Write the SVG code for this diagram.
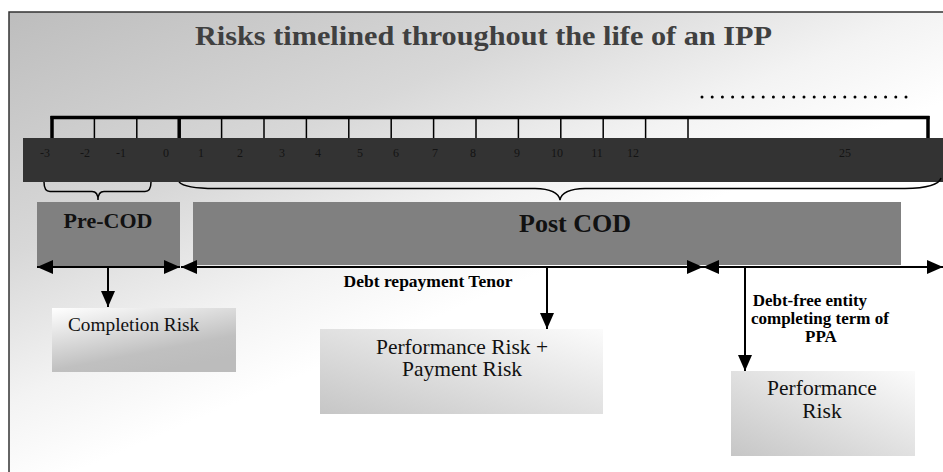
<svg xmlns="http://www.w3.org/2000/svg" width="943" height="472" viewBox="0 0 943 472" font-family="'Liberation Serif', 'Times New Roman', 'DejaVu Serif', serif">
  <defs>
    <linearGradient id="bg" gradientUnits="userSpaceOnUse" x1="9" y1="12" x2="185" y2="425">
      <stop offset="0" stop-color="#bdbdbd"/>
      <stop offset="0.5" stop-color="#d8d8d8"/>
      <stop offset="0.8" stop-color="#f3f3f3"/>
      <stop offset="1" stop-color="#ffffff"/>
    </linearGradient>
    <linearGradient id="gCompletion" x1="0" y1="0" x2="0.55" y2="1">
      <stop offset="0" stop-color="#ffffff"/>
      <stop offset="0.75" stop-color="#c0c0c0"/>
      <stop offset="1" stop-color="#bcbcbc"/>
    </linearGradient>
    <linearGradient id="gRisk" x1="1" y1="0" x2="0" y2="1">
      <stop offset="0" stop-color="#fbfbfb"/>
      <stop offset="1" stop-color="#c6c6c6"/>
    </linearGradient>
    <marker id="ah" markerUnits="userSpaceOnUse" markerWidth="16" markerHeight="14" refX="16" refY="7" orient="auto-start-reverse">
      <path d="M0,0 L16,7 L0,14 z" fill="#000"/>
    </marker>
    <style>
      text { font-family: "Liberation Serif", "Times New Roman", serif; }
      .num { font-size: 12px; fill: #141414; text-anchor: middle; }
      .tick { stroke: #000; stroke-width: 1.5; }
      .tickB { stroke: #000; stroke-width: 3.5; }
      .brace { fill: none; stroke: #000; stroke-width: 1.5; }
      .conn { stroke: #000; stroke-width: 2; fill: none; }
      .phase { fill: #808080; }
      .phaseLbl { font-weight: bold; fill: #111; text-anchor: middle; }
      .riskLbl { font-size: 21.5px; fill: #111; text-anchor: middle; }
      .boldLbl { font-weight: bold; fill: #000; text-anchor: middle; }
    </style>
  </defs>

  <rect id="frame" x="9" y="12" width="945" height="470" fill="url(#bg)" stroke="#333" stroke-width="1.5"/>

  <g id="title">
    <text x="195" y="45" font-size="27.5" font-weight="bold" fill="#404040" textLength="577" lengthAdjust="spacingAndGlyphs">Risks timelined throughout the life of an IPP</text>
  </g>

  <g id="ruler">
    <line x1="50.5" y1="117.5" x2="929.5" y2="117.5" stroke="#000" stroke-width="3.5"/>
    <line class="tickB" x1="52" y1="116" x2="52" y2="138"/>
    <line class="tick" x1="94.4" y1="117" x2="94.4" y2="138"/>
    <line class="tick" x1="136.8" y1="117" x2="136.8" y2="138"/>
    <line class="tickB" x1="179.2" y1="116" x2="179.2" y2="138"/>
    <line class="tick" x1="221.6" y1="117" x2="221.6" y2="138"/>
    <line class="tick" x1="264" y1="117" x2="264" y2="138"/>
    <line class="tick" x1="306.4" y1="117" x2="306.4" y2="138"/>
    <line class="tick" x1="348.8" y1="117" x2="348.8" y2="138"/>
    <line class="tick" x1="391.2" y1="117" x2="391.2" y2="138"/>
    <line class="tick" x1="433.6" y1="117" x2="433.6" y2="138"/>
    <line class="tick" x1="476" y1="117" x2="476" y2="138"/>
    <line class="tick" x1="518.4" y1="117" x2="518.4" y2="138"/>
    <line class="tick" x1="560.8" y1="117" x2="560.8" y2="138"/>
    <line class="tick" x1="603.2" y1="117" x2="603.2" y2="138"/>
    <line class="tick" x1="645.6" y1="117" x2="645.6" y2="138"/>
    <line class="tick" x1="688" y1="117" x2="688" y2="138"/>
    <line class="tickB" x1="928" y1="116" x2="928" y2="138"/>
    <line x1="702" y1="97" x2="906" y2="97" stroke="#000" stroke-width="3" stroke-linecap="round" stroke-dasharray="0 10.2"/>
  </g>

  <g id="timeline-bar">
    <rect x="23" y="138" width="925" height="44" fill="#333333"/>
    <text class="num" x="45" y="157">-3</text>
    <text class="num" x="85" y="157">-2</text>
    <text class="num" x="121" y="157">-1</text>
    <text class="num" x="166" y="157">0</text>
    <text class="num" x="201" y="157">1</text>
    <text class="num" x="240" y="157">2</text>
    <text class="num" x="282" y="157">3</text>
    <text class="num" x="318" y="157">4</text>
    <text class="num" x="360" y="157">5</text>
    <text class="num" x="396" y="157">6</text>
    <text class="num" x="435" y="157">7</text>
    <text class="num" x="473" y="157">8</text>
    <text class="num" x="517" y="157">9</text>
    <text class="num" x="557" y="157">10</text>
    <text class="num" x="597" y="157">11</text>
    <text class="num" x="633" y="157">12</text>
    <text class="num" x="845" y="157">25</text>
  </g>

  <g id="braces">
    <path class="brace" d="M44,182 Q44,191.5 50,191.5 L92,191.5 Q98,191.5 98,200 Q98,191.5 104,191.5 L145,191.5 Q151,191.5 151,182"/>
    <path class="brace" d="M179,182 Q185,188.5 215,188.5 L535,188.5 Q558,189 560,200 Q562,189 585,188.5 L905,188.5 Q938,188 941,178"/>
  </g>

  <g id="pre-cod">
    <rect class="phase" x="37" y="202" width="143" height="65"/>
    <text class="phaseLbl" x="108" y="228" font-size="22">Pre-COD</text>
  </g>

  <g id="post-cod">
    <rect class="phase" x="193" y="202" width="708" height="63"/>
    <text class="phaseLbl" x="575" y="232" font-size="26">Post COD</text>
  </g>

  <g id="debt-free-label">
    <rect x="731" y="287" width="184" height="84" fill="#ffffff"/>
    <text class="boldLbl" font-size="17">
      <tspan x="812" y="306">Debt-free entity</tspan>
      <tspan x="822" y="324">completing term of</tspan>
      <tspan x="821" y="342">PPA</tspan>
    </text>
  </g>

  <g id="debt-tenor-label">
    <text class="boldLbl" x="428" y="287" font-size="17.5">Debt repayment Tenor</text>
  </g>

  <g id="completion-risk">
    <rect x="52" y="308" width="184" height="64" fill="url(#gCompletion)"/>
    <text x="68" y="331" font-size="19.3" fill="#111">Completion Risk</text>
  </g>

  <g id="performance-payment-risk">
    <rect x="320" y="329" width="283" height="85" fill="url(#gRisk)"/>
    <text class="riskLbl" x="462" y="354">Performance Risk +</text>
    <text class="riskLbl" x="462" y="376">Payment Risk</text>
  </g>

  <g id="performance-risk">
    <rect x="731" y="371" width="184" height="85" fill="url(#gRisk)"/>
    <text class="riskLbl" x="822" y="395">Performance</text>
    <text class="riskLbl" x="822" y="418">Risk</text>
  </g>

  <g id="connectors">
    <line class="conn" x1="37" y1="267" x2="180" y2="267" marker-start="url(#ah)" marker-end="url(#ah)"/>
    <line class="conn" x1="181" y1="267" x2="703" y2="267" marker-start="url(#ah)" marker-end="url(#ah)"/>
    <line class="conn" x1="703" y1="267" x2="943" y2="267" marker-start="url(#ah)" marker-end="url(#ah)"/>
    <line class="conn" x1="108" y1="267" x2="108" y2="307" marker-end="url(#ah)"/>
    <line class="conn" x1="547" y1="267" x2="547" y2="329" marker-end="url(#ah)"/>
    <line class="conn" x1="745" y1="267" x2="745" y2="371" marker-end="url(#ah)"/>
  </g>
</svg>
